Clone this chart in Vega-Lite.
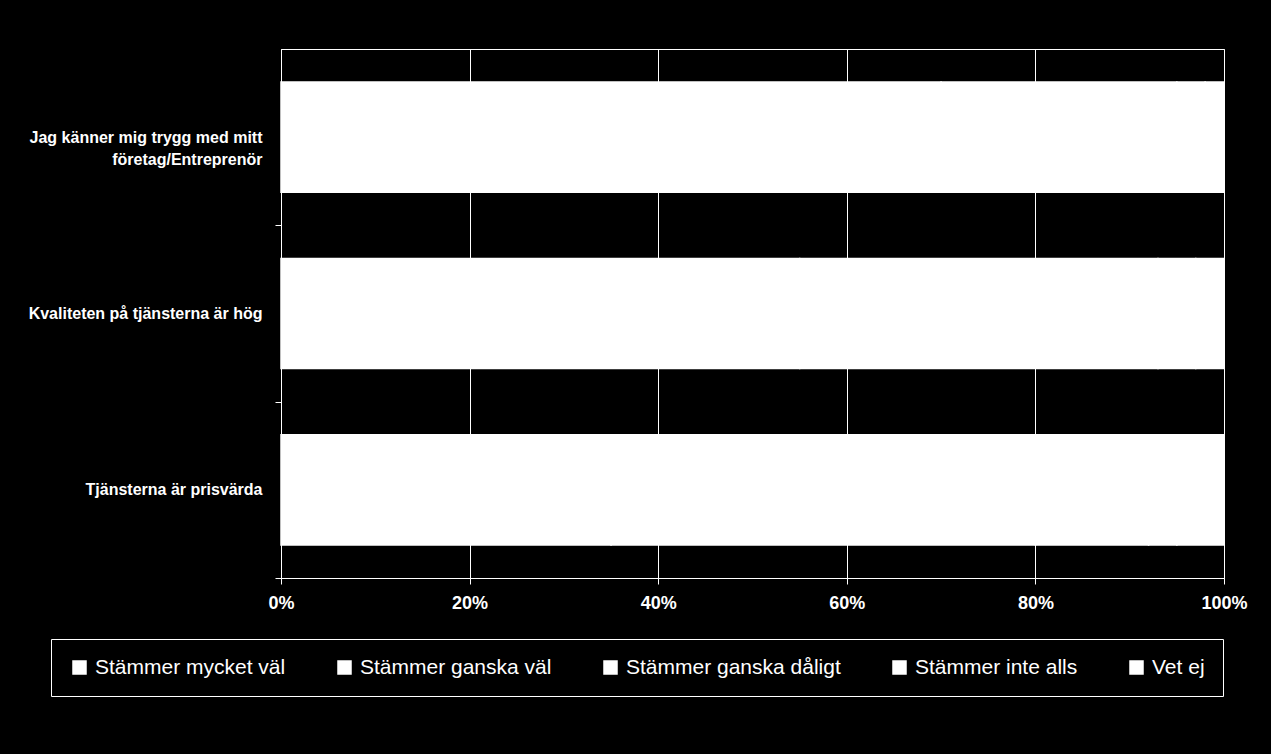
{
  "$schema": "https://vega.github.io/schema/vega-lite/v6.json",
  "width": 943,
  "height": 529,
  "autosize": {"type": "none"},
  "padding": {"left": 281, "top": 49, "right": 47, "bottom": 176},
  "background": "black",
  "config": {
    "font": "Liberation Sans",
    "view": {"stroke": "white", "strokeWidth": 1}
  },
  "data": {
    "values": [
      {"fraga": "Jag känner mig trygg med mitt företag/Entreprenör", "svar": "Stämmer mycket väl", "ordning": 1, "andel": 70},
      {"fraga": "Jag känner mig trygg med mitt företag/Entreprenör", "svar": "Stämmer ganska väl", "ordning": 2, "andel": 25},
      {"fraga": "Jag känner mig trygg med mitt företag/Entreprenör", "svar": "Stämmer ganska dåligt", "ordning": 3, "andel": 3},
      {"fraga": "Jag känner mig trygg med mitt företag/Entreprenör", "svar": "Stämmer inte alls", "ordning": 4, "andel": 0},
      {"fraga": "Jag känner mig trygg med mitt företag/Entreprenör", "svar": "Vet ej", "ordning": 5, "andel": 2},
      {"fraga": "Kvaliteten på tjänsterna är hög", "svar": "Stämmer mycket väl", "ordning": 1, "andel": 55},
      {"fraga": "Kvaliteten på tjänsterna är hög", "svar": "Stämmer ganska väl", "ordning": 2, "andel": 38},
      {"fraga": "Kvaliteten på tjänsterna är hög", "svar": "Stämmer ganska dåligt", "ordning": 3, "andel": 4},
      {"fraga": "Kvaliteten på tjänsterna är hög", "svar": "Stämmer inte alls", "ordning": 4, "andel": 0},
      {"fraga": "Kvaliteten på tjänsterna är hög", "svar": "Vet ej", "ordning": 5, "andel": 3},
      {"fraga": "Tjänsterna är prisvärda", "svar": "Stämmer mycket väl", "ordning": 1, "andel": 35},
      {"fraga": "Tjänsterna är prisvärda", "svar": "Stämmer ganska väl", "ordning": 2, "andel": 45},
      {"fraga": "Tjänsterna är prisvärda", "svar": "Stämmer ganska dåligt", "ordning": 3, "andel": 12},
      {"fraga": "Tjänsterna är prisvärda", "svar": "Stämmer inte alls", "ordning": 4, "andel": 3},
      {"fraga": "Tjänsterna är prisvärda", "svar": "Vet ej", "ordning": 5, "andel": 5}
    ]
  },
  "mark": {"type": "bar", "stroke": "white", "strokeWidth": 1.5},
  "encoding": {
    "y": {
      "field": "fraga",
      "type": "nominal",
      "sort": null,
      "title": null,
      "scale": {"paddingInner": 0.375, "paddingOuter": 0.1875},
      "axis": {
        "domainColor": "white",
        "tickColor": "white",
        "tickSize": 6,
        "tickOffset": 88,
        "labelOffset": -88,
        "labelColor": "white",
        "labelFontSize": 16,
        "labelFontWeight": "bold",
        "labelPadding": 13,
        "labelLimit": 300,
        "labelLineHeight": 22,
        "labelExpr": "datum.label == 'Jag känner mig trygg med mitt företag/Entreprenör' ? ['Jag känner mig trygg med mitt', 'företag/Entreprenör'] : datum.label"
      }
    },
    "x": {
      "field": "andel",
      "type": "quantitative",
      "stack": "normalize",
      "title": null,
      "scale": {"domain": [0, 1]},
      "axis": {
        "format": "%",
        "values": [0, 0.2, 0.4, 0.6, 0.8, 1],
        "labelFlush": false,
        "grid": true,
        "gridColor": "white",
        "gridOpacity": 1,
        "domainColor": "white",
        "tickColor": "white",
        "tickSize": 6,
        "labelColor": "white",
        "labelFontSize": 18,
        "labelFontWeight": "bold",
        "labelPadding": 10
      }
    },
    "color": {
      "field": "svar",
      "type": "nominal",
      "sort": ["Stämmer mycket väl", "Stämmer ganska väl", "Stämmer ganska dåligt", "Stämmer inte alls", "Vet ej"],
      "scale": {"range": ["white", "white", "white", "white", "white"]},
      "legend": {
        "title": null,
        "orient": "none",
        "legendX": -230,
        "legendY": 590,
        "direction": "horizontal",
        "columns": 5,
        "gridAlign": "none",
        "columnPadding": 48,
        "padding": 18,
        "strokeColor": "white",
        "symbolType": "square",
        "symbolSize": 169,
        "symbolFillColor": "white",
        "symbolStrokeColor": "white",
        "symbolOpacity": 1,
        "labelColor": "white",
        "labelFontSize": 21,
        "labelOffset": 5,
        "labelLimit": 400
      }
    },
    "order": {"field": "ordning", "type": "quantitative"}
  }
}
